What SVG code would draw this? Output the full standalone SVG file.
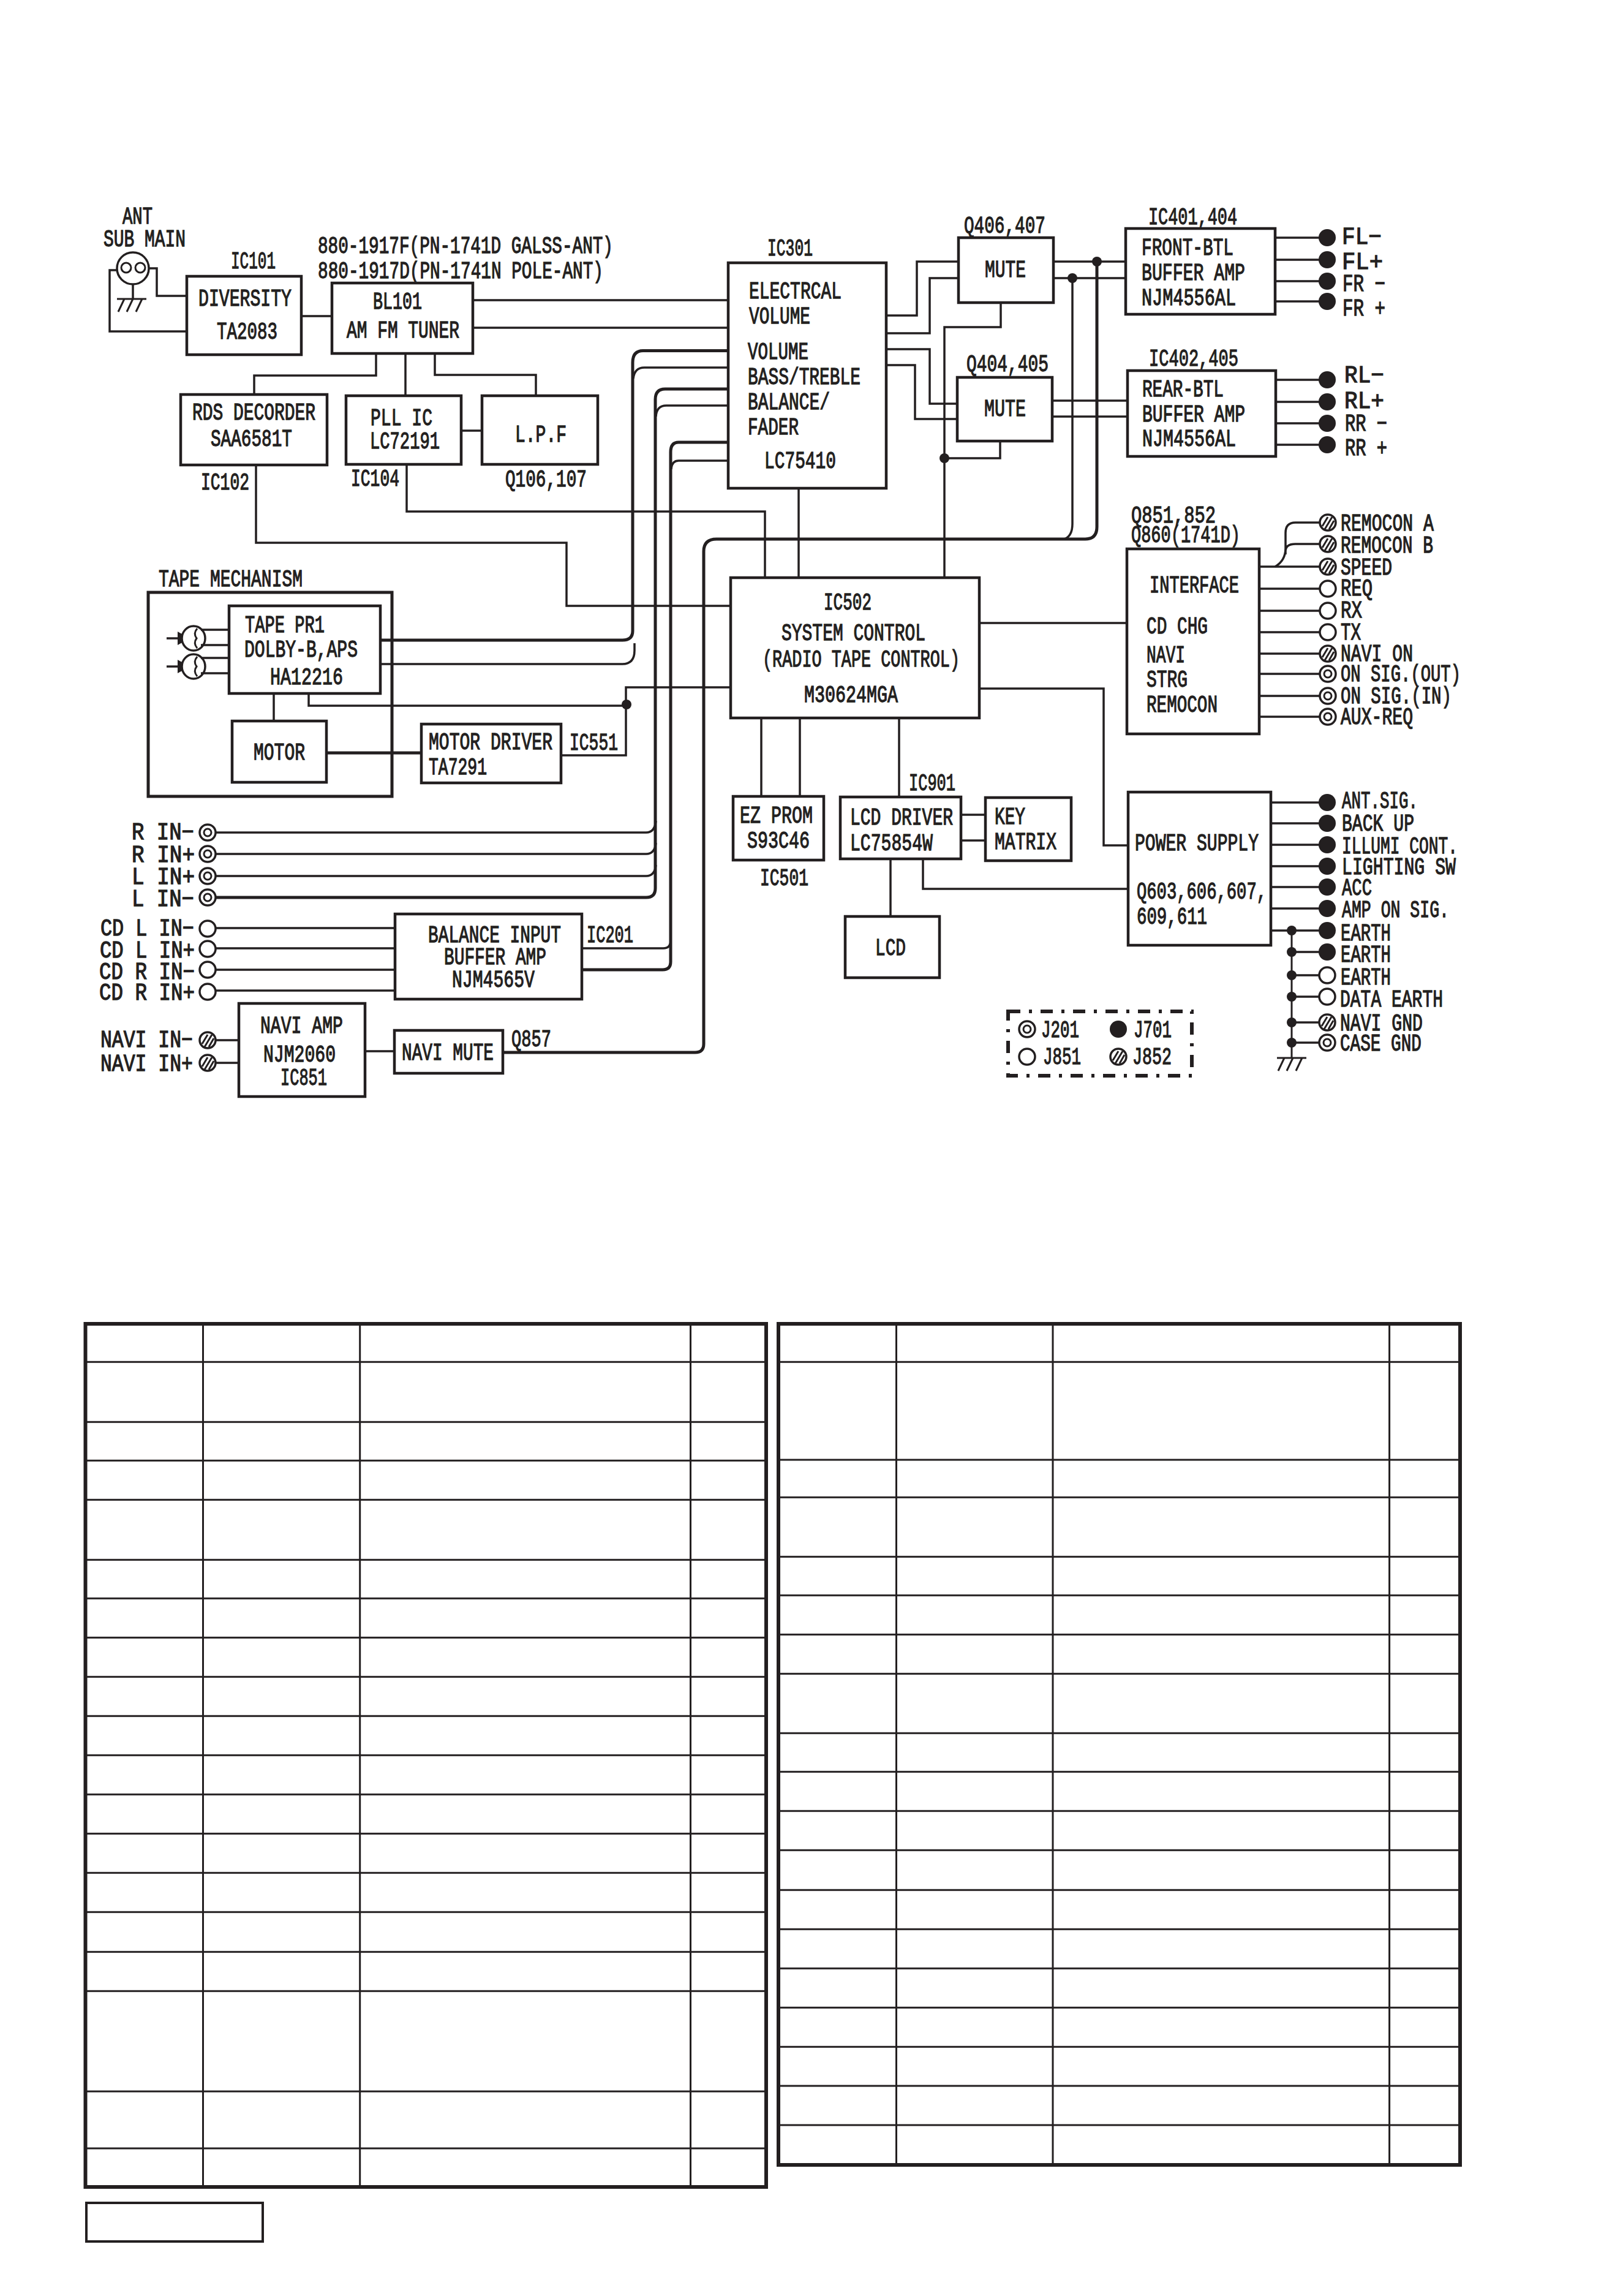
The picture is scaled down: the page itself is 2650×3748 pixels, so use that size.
<svg xmlns="http://www.w3.org/2000/svg" width="2650" height="3748" viewBox="0 0 2650 3748">
<style>
text{font-family:"Liberation Mono","DejaVu Sans Mono",monospace;font-size:39px;fill:#231f20;stroke:#231f20;stroke-width:1.3px}
.box{fill:#fff;stroke:#231f20;stroke-width:4.5}
.frame{fill:none;stroke:#231f20;stroke-width:5}
.w{fill:none;stroke:#231f20;stroke-width:3.5;stroke-linejoin:miter}
.bus{fill:none;stroke:#231f20;stroke-width:5}
.thin{fill:none;stroke:#231f20;stroke-width:3}
.dot{fill:#231f20}
.table{fill:none;stroke:#231f20;stroke-width:6}
.grid{fill:none;stroke:#231f20;stroke-width:3}
</style>
<defs>
<g id="t-black"><circle r="14" fill="#231f20"/></g>
<g id="t-open"><circle r="13" fill="#fff" stroke="#231f20" stroke-width="3.5"/></g>
<g id="t-ring"><circle r="13" fill="#fff" stroke="#231f20" stroke-width="3.5"/><circle r="6" fill="none" stroke="#231f20" stroke-width="3"/></g>
<g id="t-hatch"><circle r="13" fill="#fff" stroke="#231f20" stroke-width="3.5"/><path d="M-9 6L0-9M-5 11L7-9M2 11L10-3" fill="none" stroke="#231f20" stroke-width="3"/></g>
<g id="pickup"><path d="M-44 0H-24" class="w"/><polygon points="-26,-11 -6,0 -26,11" class="dot"/><ellipse rx="19" ry="20" fill="#fff" stroke="#231f20" stroke-width="3.5"/><path d="M6-16Q-1-8 5 0Q-1 8 6 16" class="thin"/><path d="M12-14H58M12 11H58" class="w"/></g>
<g id="earth"><path d="M-24 0H24M-12 0L-22 21M2 0L-8 21M17 0L7 21" class="thin"/></g>
</defs>

<g id="connectors">
<!-- antenna to diversity -->
<path class="w" d="M191 441H179V541H303M244 438H256V483H303M492 516H542"/>
<!-- tuner branches -->
<path class="w" d="M772 490H1189M772 535H1189M614 577V613H415V644M662 577V646M710 577V612H875V646M753 703H787"/>
<path class="w" d="M418 759V886H925V989H1193M664 758V835H1249V943M1304 797V943"/>
<!-- audio bus from tape deck to IC301 -->
<path class="bus" d="M1189 572.5H1050Q1033 572.5 1033 592V1030Q1033 1045 1016 1045H621"/>
<path class="w" d="M1189 600H1052Q1036 600 1034 618M621 1084H1016Q1036 1084 1036 1062V1050"/>
<!-- external audio inputs -->
<path class="bus" d="M1189 635H1086Q1070 635 1070 652V1450Q1070 1465 1055 1465H352"/>
<path class="w" d="M1189 662H1088Q1072 662 1071 680M352 1359H1055Q1069 1359 1071 1340M352 1394H1055Q1069 1394 1071 1376M352 1430H1055Q1069 1430 1071 1412"/>
<!-- balance amp to IC301 -->
<path class="bus" d="M1189 722H1108Q1095 722 1095 738V1570Q1095 1583 1082 1583H950"/>
<path class="w" d="M1189 752H1108Q1097 752 1096 766M950 1548H1083Q1095 1548 1095 1535"/>
<path class="w" d="M352 1515H645M352 1548H645M352 1583H645M352 1617H645"/>
<!-- navi mixing line -->
<path class="bus" d="M822 1718H1135Q1149 1718 1149 1704V900Q1149 880 1170 880H1772Q1791 880 1791 860V427"/>
<path class="w" d="M1738 880Q1751 875 1751 855V454"/>
<path class="w" d="M352 1698H390M352 1735H390M596 1716H644"/>
<!-- IC301 to mutes -->
<path class="w" d="M1447 515H1497V427H1565M1447 544H1518V454H1565M1447 570H1518V659H1563M1447 596H1494V684H1563"/>
<path class="w" d="M1634 494V534H1542V943M1633 720V748H1542"/>
<path class="w" d="M1720 427H1838M1720 454H1838M1718 654H1841M1718 680H1841"/>
<!-- speaker outputs -->
<path class="w" d="M2082 388H2155M2082 424H2155M2082 459H2155M2082 492H2155M2083 620H2155M2083 656H2155M2083 691H2155M2083 726H2155"/>
<!-- tape and motor -->
<path class="w" d="M504 1133V1152H1022M447 1132V1177M918 1233H1022V1122H1193"/>
<path class="bus" d="M533 1229H688"/>
<!-- system control periphery -->
<path class="w" d="M1599 1017H1840M1599 1124H1802V1380H1842M1243 1172V1300M1306 1172V1300M1468 1172V1301"/>
<path class="w" d="M1569 1330H1609M1569 1372H1609M1454 1402V1496M1507 1402V1451H1842"/>
<!-- interface terminals -->
<path class="w" d="M2056 925H2155M2056 961H2155M2056 997H2155M2056 1032H2155M2056 1067H2155M2056 1100H2155M2056 1136H2155M2056 1170H2155"/>
<path class="w" d="M2082 925Q2099 915 2099 895V870Q2099 853 2115 853H2155M2099 905V900Q2099 888 2115 888H2155"/>
<!-- power terminals and earth rail -->
<path class="w" d="M2075 1310H2155M2075 1344H2155M2075 1379H2155M2075 1414H2155M2075 1448H2155M2075 1483H2155M2075 1519H2155M2109 1554H2155M2109 1592H2155M2109 1627H2155M2109 1669H2155M2109 1702H2155"/>
<path class="thin" d="M2109 1519V1727"/>
</g>

<g id="junctions">
<circle class="dot" cx="1791" cy="427" r="8"/><circle class="dot" cx="1751" cy="454" r="8"/>
<circle class="dot" cx="1542" cy="748" r="8"/><circle class="dot" cx="1023" cy="1150" r="8"/>
<circle class="dot" cx="2109" cy="1519" r="8"/><circle class="dot" cx="2109" cy="1554" r="8"/>
<circle class="dot" cx="2109" cy="1592" r="8"/><circle class="dot" cx="2109" cy="1627" r="8"/>
<circle class="dot" cx="2109" cy="1669" r="8"/><circle class="dot" cx="2109" cy="1702" r="8"/>
</g>

<g id="antenna">
<text x="200" y="365" textLength="49" lengthAdjust="spacingAndGlyphs">ANT</text>
<text x="169" y="402" textLength="134" lengthAdjust="spacingAndGlyphs">SUB MAIN</text>
<circle cx="217" cy="438" r="26" fill="#fff" stroke="#231f20" stroke-width="3.5"/>
<circle cx="206" cy="437" r="8" fill="none" stroke="#231f20" stroke-width="3"/>
<circle cx="229" cy="437" r="8" fill="none" stroke="#231f20" stroke-width="3"/>
<path class="w" d="M217 464V488"/>
<use href="#earth" x="215" y="488"/>
</g>

<g id="ic101">
<rect class="box" x="305" y="451" width="187" height="128"/>
<text x="377" y="438" textLength="73" lengthAdjust="spacingAndGlyphs">IC101</text>
<text x="324" y="499" textLength="152" lengthAdjust="spacingAndGlyphs">DIVERSITY</text>
<text x="354" y="553" textLength="99" lengthAdjust="spacingAndGlyphs">TA2083</text>
</g>
<g id="bl101">
<rect class="box" x="542" y="462" width="230" height="115"/>
<text x="519" y="413" textLength="482" lengthAdjust="spacingAndGlyphs">880-1917F(PN-1741D GALSS-ANT)</text>
<text x="519" y="454" textLength="466" lengthAdjust="spacingAndGlyphs">880-1917D(PN-1741N POLE-ANT)</text>
<text x="609" y="504" textLength="80" lengthAdjust="spacingAndGlyphs">BL101</text>
<text x="566" y="551" textLength="184" lengthAdjust="spacingAndGlyphs">AM FM TUNER</text>
</g>
<g id="ic102">
<rect class="box" x="295" y="644" width="239" height="115"/>
<text x="314" y="685" textLength="201" lengthAdjust="spacingAndGlyphs">RDS DECORDER</text>
<text x="344" y="728" textLength="133" lengthAdjust="spacingAndGlyphs">SAA6581T</text>
<text x="328" y="799" textLength="79" lengthAdjust="spacingAndGlyphs">IC102</text>
</g>
<g id="ic104">
<rect class="box" x="565" y="646" width="188" height="112"/>
<text x="605" y="694" textLength="101" lengthAdjust="spacingAndGlyphs">PLL IC</text>
<text x="604" y="732" textLength="114" lengthAdjust="spacingAndGlyphs">LC72191</text>
<text x="573" y="793" textLength="79" lengthAdjust="spacingAndGlyphs">IC104</text>
</g>
<g id="lpf">
<rect class="box" x="787" y="646" width="189" height="112"/>
<text x="841" y="721" textLength="84" lengthAdjust="spacingAndGlyphs">L.P.F</text>
<text x="825" y="794" textLength="133" lengthAdjust="spacingAndGlyphs">Q106,107</text>
</g>
<g id="ic301">
<rect class="box" x="1189" y="429" width="258" height="368"/>
<text x="1253" y="417" textLength="74" lengthAdjust="spacingAndGlyphs">IC301</text>
<text x="1223" y="487" textLength="151" lengthAdjust="spacingAndGlyphs">ELECTRCAL</text>
<text x="1223" y="528" textLength="100" lengthAdjust="spacingAndGlyphs">VOLUME</text>
<text x="1221" y="586" textLength="99" lengthAdjust="spacingAndGlyphs">VOLUME</text>
<text x="1221" y="627" textLength="184" lengthAdjust="spacingAndGlyphs">BASS/TREBLE</text>
<text x="1221" y="668" textLength="134" lengthAdjust="spacingAndGlyphs">BALANCE/</text>
<text x="1221" y="709" textLength="83" lengthAdjust="spacingAndGlyphs">FADER</text>
<text x="1248" y="764" textLength="117" lengthAdjust="spacingAndGlyphs">LC75410</text>
</g>
<g id="mute-front">
<rect class="box" x="1565" y="388" width="155" height="106"/>
<text x="1574" y="380" textLength="133" lengthAdjust="spacingAndGlyphs">Q406,407</text>
<text x="1608" y="452" textLength="67" lengthAdjust="spacingAndGlyphs">MUTE</text>
</g>
<g id="mute-rear">
<rect class="box" x="1563" y="616" width="155" height="104"/>
<text x="1578" y="606" textLength="134" lengthAdjust="spacingAndGlyphs">Q404,405</text>
<text x="1607" y="679" textLength="68" lengthAdjust="spacingAndGlyphs">MUTE</text>
</g>
<g id="ic401">
<rect class="box" x="1838" y="373" width="244" height="140"/>
<text x="1875" y="366" textLength="145" lengthAdjust="spacingAndGlyphs">IC401,404</text>
<text x="1864" y="416" textLength="150" lengthAdjust="spacingAndGlyphs">FRONT-BTL</text>
<text x="1864" y="457" textLength="169" lengthAdjust="spacingAndGlyphs">BUFFER AMP</text>
<text x="1864" y="498" textLength="154" lengthAdjust="spacingAndGlyphs">NJM4556AL</text>
</g>
<g id="ic402">
<rect class="box" x="1841" y="605" width="242" height="140"/>
<text x="1876" y="597" textLength="146" lengthAdjust="spacingAndGlyphs">IC402,405</text>
<text x="1865" y="647" textLength="133" lengthAdjust="spacingAndGlyphs">REAR-BTL</text>
<text x="1865" y="688" textLength="168" lengthAdjust="spacingAndGlyphs">BUFFER AMP</text>
<text x="1865" y="728" textLength="153" lengthAdjust="spacingAndGlyphs">NJM4556AL</text>
</g>
<g id="speaker-terminals">
<use href="#t-black" x="2167" y="388"/><use href="#t-black" x="2167" y="424"/><use href="#t-black" x="2167" y="459"/><use href="#t-black" x="2167" y="492"/>
<use href="#t-black" x="2167" y="620"/><use href="#t-black" x="2167" y="656"/><use href="#t-black" x="2167" y="691"/><use href="#t-black" x="2167" y="726"/>
<text x="2191" y="398" textLength="65" lengthAdjust="spacingAndGlyphs">FL−</text>
<text x="2191" y="439" textLength="67" lengthAdjust="spacingAndGlyphs">FL+</text>
<text x="2192" y="475" textLength="70" lengthAdjust="spacingAndGlyphs">FR −</text>
<text x="2192" y="515" textLength="70" lengthAdjust="spacingAndGlyphs">FR +</text>
<text x="2195" y="624" textLength="65" lengthAdjust="spacingAndGlyphs">RL−</text>
<text x="2195" y="666" textLength="65" lengthAdjust="spacingAndGlyphs">RL+</text>
<text x="2196" y="703" textLength="69" lengthAdjust="spacingAndGlyphs">RR −</text>
<text x="2196" y="743" textLength="69" lengthAdjust="spacingAndGlyphs">RR +</text>
</g>
<g id="tape-mechanism">
<rect class="frame" x="242" y="967" width="398" height="333"/>
<text x="259" y="957" textLength="235" lengthAdjust="spacingAndGlyphs">TAPE MECHANISM</text>
</g>
<g id="tape-pre">
<use href="#pickup" x="316" y="1042"/><use href="#pickup" x="316" y="1088"/>
<rect class="box" x="374" y="989" width="247" height="143"/>
<text x="400" y="1032" textLength="130" lengthAdjust="spacingAndGlyphs">TAPE PR1</text>
<text x="399" y="1072" textLength="185" lengthAdjust="spacingAndGlyphs">DOLBY-B,APS</text>
<text x="441" y="1117" textLength="119" lengthAdjust="spacingAndGlyphs">HA12216</text>
</g>
<g id="motor">
<rect class="box" x="379" y="1177" width="154" height="100"/>
<text x="414" y="1240" textLength="84" lengthAdjust="spacingAndGlyphs">MOTOR</text>
</g>
<g id="ic551">
<rect class="box" x="688" y="1182" width="228" height="96"/>
<text x="700" y="1223" textLength="202" lengthAdjust="spacingAndGlyphs">MOTOR DRIVER</text>
<text x="700" y="1264" textLength="95" lengthAdjust="spacingAndGlyphs">TA7291</text>
<text x="930" y="1224" textLength="79" lengthAdjust="spacingAndGlyphs">IC551</text>
</g>
<g id="ic502">
<rect class="box" x="1193" y="943" width="406" height="229"/>
<text x="1345" y="995" textLength="78" lengthAdjust="spacingAndGlyphs">IC502</text>
<text x="1276" y="1045" textLength="235" lengthAdjust="spacingAndGlyphs">SYSTEM CONTROL</text>
<text x="1245" y="1088" textLength="322" lengthAdjust="spacingAndGlyphs">(RADIO TAPE CONTROL)</text>
<text x="1313" y="1146" textLength="153" lengthAdjust="spacingAndGlyphs">M30624MGA</text>
</g>
<g id="interface">
<rect class="box" x="1840" y="896" width="216" height="302"/>
<text x="1847" y="853" textLength="138" lengthAdjust="spacingAndGlyphs">Q851,852</text>
<text x="1847" y="885" textLength="178" lengthAdjust="spacingAndGlyphs">Q860(1741D)</text>
<text x="1877" y="967" textLength="146" lengthAdjust="spacingAndGlyphs">INTERFACE</text>
<text x="1872" y="1034" textLength="100" lengthAdjust="spacingAndGlyphs">CD CHG</text>
<text x="1872" y="1081" textLength="63" lengthAdjust="spacingAndGlyphs">NAVI</text>
<text x="1872" y="1121" textLength="67" lengthAdjust="spacingAndGlyphs">STRG</text>
<text x="1872" y="1162" textLength="116" lengthAdjust="spacingAndGlyphs">REMOCON</text>
</g>
<g id="interface-terminals">
<use href="#t-hatch" x="2168" y="853"/><use href="#t-hatch" x="2168" y="888"/><use href="#t-hatch" x="2168" y="925"/>
<use href="#t-open" x="2168" y="961"/><use href="#t-open" x="2168" y="997"/><use href="#t-open" x="2168" y="1032"/>
<use href="#t-hatch" x="2168" y="1067"/><use href="#t-ring" x="2168" y="1100"/><use href="#t-ring" x="2168" y="1136"/><use href="#t-ring" x="2168" y="1170"/>
<text x="2189" y="866" textLength="152" lengthAdjust="spacingAndGlyphs">REMOCON A</text>
<text x="2189" y="902" textLength="151" lengthAdjust="spacingAndGlyphs">REMOCON B</text>
<text x="2189" y="938" textLength="84" lengthAdjust="spacingAndGlyphs">SPEED</text>
<text x="2189" y="972" textLength="52" lengthAdjust="spacingAndGlyphs">REQ</text>
<text x="2189" y="1008" textLength="35" lengthAdjust="spacingAndGlyphs">RX</text>
<text x="2189" y="1044" textLength="33" lengthAdjust="spacingAndGlyphs">TX</text>
<text x="2189" y="1079" textLength="118" lengthAdjust="spacingAndGlyphs">NAVI ON</text>
<text x="2189" y="1112" textLength="196" lengthAdjust="spacingAndGlyphs">ON SIG.(OUT)</text>
<text x="2189" y="1148" textLength="181" lengthAdjust="spacingAndGlyphs">ON SIG.(IN)</text>
<text x="2189" y="1182" textLength="118" lengthAdjust="spacingAndGlyphs">AUX-REQ</text>
</g>
<g id="audio-inputs">
<use href="#t-ring" x="339" y="1359"/><use href="#t-ring" x="339" y="1394"/><use href="#t-ring" x="339" y="1430"/><use href="#t-ring" x="339" y="1465"/>
<use href="#t-open" x="339" y="1516"/><use href="#t-open" x="339" y="1549"/><use href="#t-open" x="339" y="1583"/><use href="#t-open" x="339" y="1619"/>
<use href="#t-hatch" x="339" y="1698"/><use href="#t-hatch" x="339" y="1735"/>
<text x="215" y="1370" textLength="102" lengthAdjust="spacingAndGlyphs">R IN−</text>
<text x="215" y="1407" textLength="103" lengthAdjust="spacingAndGlyphs">R IN+</text>
<text x="215" y="1443" textLength="103" lengthAdjust="spacingAndGlyphs">L IN+</text>
<text x="215" y="1479" textLength="102" lengthAdjust="spacingAndGlyphs">L IN−</text>
<text x="164" y="1527" textLength="153" lengthAdjust="spacingAndGlyphs">CD L IN−</text>
<text x="163" y="1563" textLength="155" lengthAdjust="spacingAndGlyphs">CD L IN+</text>
<text x="162" y="1598" textLength="156" lengthAdjust="spacingAndGlyphs">CD R IN−</text>
<text x="162" y="1632" textLength="156" lengthAdjust="spacingAndGlyphs">CD R IN+</text>
<text x="164" y="1709" textLength="151" lengthAdjust="spacingAndGlyphs">NAVI IN−</text>
<text x="164" y="1748" textLength="151" lengthAdjust="spacingAndGlyphs">NAVI IN+</text>
</g>
<g id="ic201">
<rect class="box" x="645" y="1492" width="305" height="139"/>
<text x="699" y="1538" textLength="217" lengthAdjust="spacingAndGlyphs">BALANCE INPUT</text>
<text x="725" y="1574" textLength="167" lengthAdjust="spacingAndGlyphs">BUFFER AMP</text>
<text x="738" y="1611" textLength="135" lengthAdjust="spacingAndGlyphs">NJM4565V</text>
<text x="958" y="1538" textLength="76" lengthAdjust="spacingAndGlyphs">IC201</text>
</g>
<g id="ic851">
<rect class="box" x="390" y="1638" width="206" height="152"/>
<text x="425" y="1686" textLength="135" lengthAdjust="spacingAndGlyphs">NAVI AMP</text>
<text x="430" y="1733" textLength="118" lengthAdjust="spacingAndGlyphs">NJM2060</text>
<text x="458" y="1771" textLength="76" lengthAdjust="spacingAndGlyphs">IC851</text>
</g>
<g id="q857">
<rect class="box" x="644" y="1682" width="177" height="70"/>
<text x="656" y="1730" textLength="150" lengthAdjust="spacingAndGlyphs">NAVI MUTE</text>
<text x="835" y="1708" textLength="65" lengthAdjust="spacingAndGlyphs">Q857</text>
</g>
<g id="ic501">
<rect class="box" x="1197" y="1300" width="148" height="104"/>
<text x="1208" y="1343" textLength="119" lengthAdjust="spacingAndGlyphs">EZ PROM</text>
<text x="1220" y="1384" textLength="102" lengthAdjust="spacingAndGlyphs">S93C46</text>
<text x="1241" y="1445" textLength="79" lengthAdjust="spacingAndGlyphs">IC501</text>
</g>
<g id="ic901">
<rect class="box" x="1372" y="1301" width="197" height="101"/>
<text x="1484" y="1290" textLength="76" lengthAdjust="spacingAndGlyphs">IC901</text>
<text x="1388" y="1346" textLength="168" lengthAdjust="spacingAndGlyphs">LCD DRIVER</text>
<text x="1388" y="1388" textLength="135" lengthAdjust="spacingAndGlyphs">LC75854W</text>
</g>
<g id="key-matrix">
<rect class="box" x="1609" y="1302" width="140" height="103"/>
<text x="1624" y="1345" textLength="50" lengthAdjust="spacingAndGlyphs">KEY</text>
<text x="1624" y="1386" textLength="101" lengthAdjust="spacingAndGlyphs">MATRIX</text>
</g>
<g id="lcd">
<rect class="box" x="1380" y="1496" width="154" height="100"/>
<text x="1429" y="1559" textLength="50" lengthAdjust="spacingAndGlyphs">LCD</text>
</g>
<g id="power-supply">
<rect class="box" x="1842" y="1293" width="233" height="250"/>
<text x="1853" y="1388" textLength="202" lengthAdjust="spacingAndGlyphs">POWER SUPPLY</text>
<text x="1856" y="1467" textLength="212" lengthAdjust="spacingAndGlyphs">Q603,606,607,</text>
<text x="1856" y="1508" textLength="115" lengthAdjust="spacingAndGlyphs">609,611</text>
</g>
<g id="power-terminals">
<use href="#t-black" x="2167" y="1310"/><use href="#t-black" x="2167" y="1344"/><use href="#t-black" x="2167" y="1379"/><use href="#t-black" x="2167" y="1414"/>
<use href="#t-black" x="2167" y="1448"/><use href="#t-black" x="2167" y="1483"/><use href="#t-black" x="2167" y="1519"/><use href="#t-black" x="2167" y="1554"/>
<use href="#t-open" x="2167" y="1592"/><use href="#t-open" x="2167" y="1627"/><use href="#t-hatch" x="2167" y="1669"/><use href="#t-ring" x="2167" y="1702"/>
<use href="#earth" x="2109" y="1727"/>
<text x="2191" y="1319" textLength="124" lengthAdjust="spacingAndGlyphs">ANT.SIG.</text>
<text x="2191" y="1356" textLength="118" lengthAdjust="spacingAndGlyphs">BACK UP</text>
<text x="2191" y="1393" textLength="189" lengthAdjust="spacingAndGlyphs">ILLUMI CONT.</text>
<text x="2191" y="1427" textLength="186" lengthAdjust="spacingAndGlyphs">LIGHTING SW</text>
<text x="2191" y="1461" textLength="49" lengthAdjust="spacingAndGlyphs">ACC</text>
<text x="2191" y="1497" textLength="175" lengthAdjust="spacingAndGlyphs">AMP ON SIG.</text>
<text x="2189" y="1535" textLength="82" lengthAdjust="spacingAndGlyphs">EARTH</text>
<text x="2189" y="1570" textLength="82" lengthAdjust="spacingAndGlyphs">EARTH</text>
<text x="2189" y="1607" textLength="82" lengthAdjust="spacingAndGlyphs">EARTH</text>
<text x="2188" y="1643" textLength="168" lengthAdjust="spacingAndGlyphs">DATA EARTH</text>
<text x="2188" y="1682" textLength="135" lengthAdjust="spacingAndGlyphs">NAVI GND</text>
<text x="2188" y="1715" textLength="133" lengthAdjust="spacingAndGlyphs">CASE GND</text>
</g>
<g id="jack-legend">
<rect x="1646" y="1651" width="300" height="105" fill="none" stroke="#231f20" stroke-width="6" stroke-dasharray="20 14 5 14"/>
<use href="#t-ring" x="1677" y="1680"/><use href="#t-black" x="1826" y="1680"/><use href="#t-open" x="1677" y="1725"/><use href="#t-hatch" x="1826" y="1725"/>
<text x="1700" y="1693" textLength="62" lengthAdjust="spacingAndGlyphs">J201</text>
<text x="1851" y="1693" textLength="62" lengthAdjust="spacingAndGlyphs">J701</text>
<text x="1703" y="1737" textLength="62" lengthAdjust="spacingAndGlyphs">J851</text>
<text x="1849" y="1737" textLength="64" lengthAdjust="spacingAndGlyphs">J852</text>
</g>

<g id="table-left">
<path class="grid" d="M331.5 2161V3570M587.7 2161V3570M1127.5 2161V3570"/>
<path class="grid" d="M140 2223.3H1251M140 2321.3H1251M140 2384.3H1251M140 2448.3H1251M140 2546.3H1251M140 2609.3H1251M140 2673.3H1251M140 2737.3H1251M140 2801.3H1251M140 2865.3H1251M140 2929.3H1251M140 2993.3H1251M140 3057.3H1251M140 3121.3H1251M140 3186.3H1251M140 3250.3H1251M140 3414H1251M140 3507H1251"/>
<rect class="table" x="139.5" y="2161" width="1111.5" height="1409"/>
</g>
<g id="table-right">
<path class="grid" d="M1463.5 2161V3534M1719 2161V3534M2268.6 2161V3534"/>
<path class="grid" d="M1271 2223.3H2384M1271 2383H2384M1271 2444.3H2384M1271 2541.3H2384M1271 2604.3H2384M1271 2668.3H2384M1271 2732.3H2384M1271 2829.3H2384M1271 2892.3H2384M1271 2956.3H2384M1271 3020.3H2384M1271 3085.3H2384M1271 3149.3H2384M1271 3213.3H2384M1271 3277.3H2384M1271 3341.3H2384M1271 3405H2384M1271 3469H2384"/>
<rect class="table" x="1271" y="2161" width="1113" height="1373"/>
</g>
<g id="note-box">
<rect x="141" y="3596" width="288" height="63" fill="none" stroke="#231f20" stroke-width="4"/>
</g>
</svg>
